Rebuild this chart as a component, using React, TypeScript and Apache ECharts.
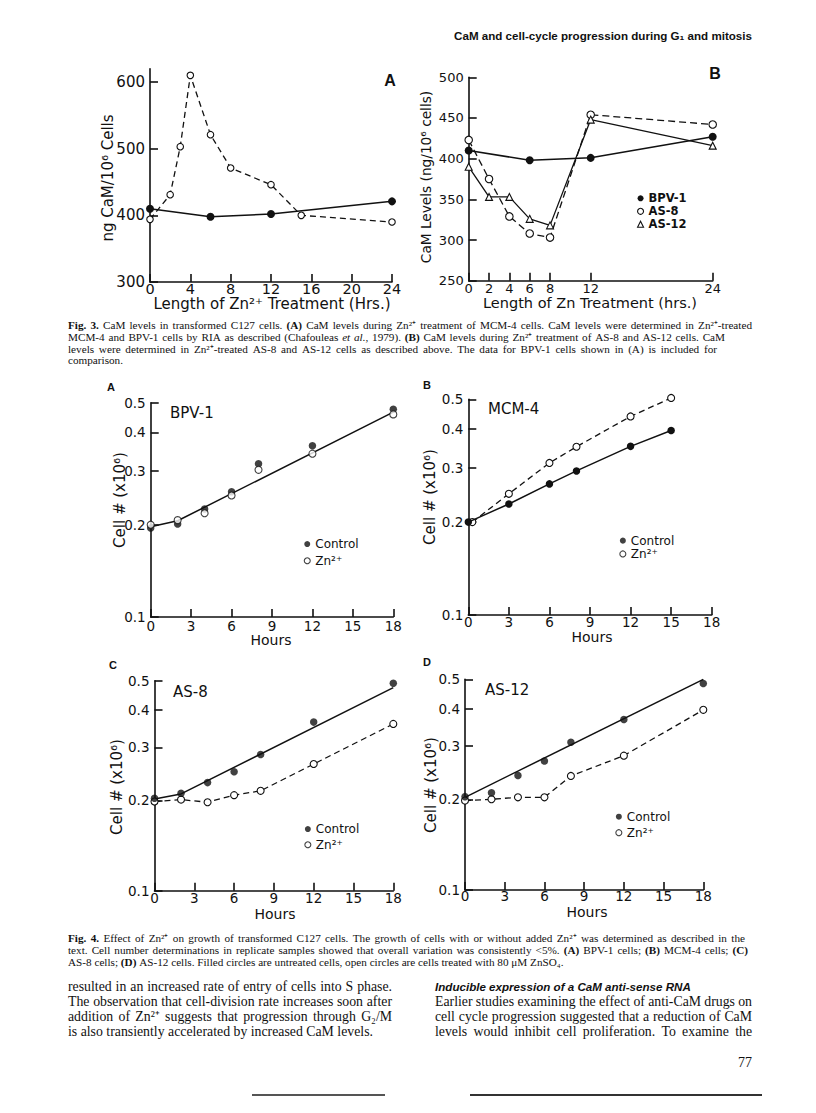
import React, { useEffect, useRef } from 'react';
import * as echarts from 'echarts';

// ---------- Fig. 3A : CaM (ng/10^6 cells) vs hours of Zn2+ ----------
const fig3aBpvHours = [0, 6, 12, 24];
const fig3aBpvCaM = [410, 398, 402, 421];
const fig3aMcmHours = [0, 2, 3, 4, 6, 8, 12, 15, 24];
const fig3aMcmCaM = [394, 431, 503, 610, 521, 471, 446, 400, 390];
const fig3aXTicks = [0, 4, 8, 12, 16, 20, 24];
const fig3aYTicks = [300, 400, 500, 600];

// ---------- Fig. 3B ----------
const fig3bHours = [0, 2, 4, 6, 8, 12, 24];
const fig3bBpvHours = [0, 6, 12, 24];
const fig3bBpv = [410, 398, 401, 427];
const fig3bAs8 = [423, 375, 329, 308, 303, 454, 442];
const fig3bAs12 = [390, 353, 353, 326, 318, 448, 416];
const fig3bXTicks = [0, 2, 4, 6, 8, 12, 24];
const fig3bYTicks = [250, 300, 350, 400, 450, 500];

// ---------- Fig. 4 : cell number (x10^6), log scale ----------
const fig4Hours = [0, 2, 4, 6, 8, 12, 18];
const fig4XTicks = [0, 3, 6, 9, 12, 15, 18];
const fig4YTicks = [0.1, 0.2, 0.3, 0.4, 0.5];

const bpvControl = [0.195, 0.201, 0.225, 0.256, 0.316, 0.362, 0.476];
const bpvZn = [0.2, 0.207, 0.218, 0.249, 0.302, 0.341, 0.458];
const bpvFitHours = [0, 2, 18];
const bpvFit = [0.197, 0.206, 0.466];

const mcmControlHours = [0, 3, 6, 8, 12, 15];
const mcmControl = [0.2, 0.229, 0.266, 0.293, 0.352, 0.396];
const mcmZnHours = [0.3, 3, 6, 8, 12, 15];
const mcmZn = [0.2, 0.247, 0.311, 0.351, 0.44, 0.505];

const as8Control = [0.203, 0.211, 0.229, 0.249, 0.284, 0.364, 0.49];
const as8Zn = [0.198, 0.201, 0.197, 0.208, 0.215, 0.264, 0.359];
const as8FitHours = [0, 2, 18];
const as8Fit = [0.202, 0.21, 0.474];

const as12Control = [0.204, 0.21, 0.24, 0.268, 0.309, 0.368, 0.484];
const as12Zn = [0.198, 0.2, 0.203, 0.203, 0.239, 0.279, 0.396];
const as12FitHours = [0, 18];
const as12Fit = [0.203, 0.5];

// ---------- page text ----------
const fig3Caption = [
  '{b|Fig. 3.} CaM levels in transformed C127 cells. {b|(A)} CaM levels during Zn²⁺ treatment of MCM-4 cells. CaM levels were determined in Zn²⁺-treated',
  'MCM-4 and BPV-1 cells by RIA as described (Chafouleas {i|et al.}, 1979). {b|(B)} CaM levels during Zn²⁺ treatment of AS-8 and AS-12 cells. CaM',
  'levels were determined in Zn²⁺-treated AS-8 and AS-12 cells as described above. The data for BPV-1 cells shown in (A) is included for',
  'comparison.',
];
const fig4Caption = [
  '{b|Fig. 4.} Effect of Zn²⁺ on growth of transformed C127 cells. The growth of cells with or without added Zn²⁺ was determined as described in the',
  'text. Cell number determinations in replicate samples showed that overall variation was consistently <5%. {b|(A)} BPV-1 cells; {b|(B)} MCM-4 cells; {b|(C)}',
  'AS-8 cells; {b|(D)} AS-12 cells. Filled circles are untreated cells, open circles are cells treated with 80 μM ZnSO₄.',
];
const leftColumn = [
  'resulted in an increased rate of entry of cells into S phase.',
  'The observation that cell-division rate increases soon after',
  'addition of Zn²⁺ suggests that progression through G₂/M',
  'is also transiently accelerated by increased CaM levels.',
];
const rightColumn = [
  'Earlier studies examining the effect of anti-CaM drugs on',
  'cell cycle progression suggested that a reduction of CaM',
  'levels would inhibit cell proliferation. To examine the',
];

const INK = '#111';
const SANS = "'DejaVu Sans', 'Liberation Sans', sans-serif";
const SERIF = "'Liberation Serif', 'Times New Roman', serif";
const HEAD = "'Liberation Sans', Arial, sans-serif";

const lg = (v: number) => Math.log10(v);
const pairs = (xs: number[], ys: number[], f: (v: number) => number = (v) => v) =>
  xs.map((x, i) => [x, f(ys[i])]);

function xAx(gridIndex: number, min: number, max: number, ticks: number[], fontSize: number, margin: number) {
  return {
    type: 'value', gridIndex, min, max,
    axisLine: { show: true, onZero: false, lineStyle: { color: INK, width: 1.6 } },
    axisTick: { show: true, inside: true, length: 8, customValues: ticks, lineStyle: { color: INK, width: 1.6 } },
    axisLabel: { customValues: ticks, fontSize, color: INK, fontFamily: SANS, margin },
    splitLine: { show: false },
  };
}

function yAx(gridIndex: number, min: number, max: number, ticks: number[], fontSize: number, fmt?: (v: number) => string) {
  return {
    type: 'value', gridIndex, min, max,
    axisLine: { show: true, onZero: false, lineStyle: { color: INK, width: 1.6 } },
    axisTick: { show: true, inside: true, length: 8, customValues: ticks, lineStyle: { color: INK, width: 1.6 } },
    axisLabel: { customValues: ticks, fontSize, color: INK, fontFamily: SANS, margin: 5, formatter: fmt },
    splitLine: { show: false },
  };
}

const logMax = lg(0.5) + 1e-9;
const logTicks = fig4YTicks.map(lg);
const logFmt = (v: number) => Math.pow(10, v).toFixed(1);

function filled(size: number) {
  return { symbol: 'circle', symbolSize: size, itemStyle: { color: INK } };
}
function open(size: number, sym = 'circle') {
  return { symbol: sym, symbolSize: size, itemStyle: { color: '#fff', borderColor: INK, borderWidth: 1.1 } };
}

function txt(text: string, x: number, y: number, size: number, family: string, o: any = {}) {
  return {
    type: 'text', x, y, rotation: o.rotation || 0, silent: true, z: 10,
    style: {
      text, fontSize: size, fontFamily: family, fontWeight: o.weight || 'normal',
      fontStyle: o.style || 'normal', fill: o.fill || INK,
      align: o.align || 'left', verticalAlign: 'middle',
      textAlign: o.align || 'left', textVerticalAlign: 'middle',
      rich: o.rich,
    },
  };
}

const richFor = (size: number, family: string) => ({
  b: { fontFamily: family, fontSize: size, fontWeight: 'bold', fill: INK },
  i: { fontFamily: family, fontSize: size, fontStyle: 'italic', fill: INK },
});

let measureCtx: CanvasRenderingContext2D | null = null;
function measure(text: string, size: number, family: string, weight: string, style: string) {
  if (!measureCtx) measureCtx = document.createElement('canvas').getContext('2d');
  if (!measureCtx) return text.length * size * 0.45;
  measureCtx.font = `${style} ${weight} ${size}px ${family}`;
  return measureCtx.measureText(text).width;
}

// one typeset line, words spread so that it ends at x1 when x1 is given
function typeLine(str: string, x0: number, x1: number | null, y: number, size: number, family: string) {
  const pieces: { t: string; s: string }[] = [];
  const re = /\{(\w)\|([^}]*)\}|([^{]+)/g;
  let m: RegExpExecArray | null;
  while ((m = re.exec(str))) {
    if (m[3] !== undefined) pieces.push({ t: m[3], s: '' });
    else pieces.push({ t: m[2], s: m[1] });
  }
  const words: { t: string; s: string }[][] = [];
  let cur: { t: string; s: string }[] = [];
  for (const p of pieces) {
    const parts = p.t.split(' ');
    parts.forEach((part, i) => {
      if (i > 0) {
        if (cur.length) words.push(cur);
        cur = [];
      }
      if (part) cur.push({ t: part, s: p.s });
    });
  }
  if (cur.length) words.push(cur);
  const widths = words.map((w) =>
    w.reduce((a, p) => a + measure(p.t, size, family, p.s === 'b' ? 'bold' : 'normal', p.s === 'i' ? 'italic' : 'normal'), 0),
  );
  const spaceW = measure(' ', size, family, 'normal', 'normal');
  const total = widths.reduce((a, b) => a + b, 0);
  const gap = x1 !== null && words.length > 1 ? Math.max(spaceW * 0.6, (x1 - x0 - total) / (words.length - 1)) : spaceW;
  const rich = richFor(size, family);
  let x = x0;
  return words.map((w, i) => {
    const el = txt(w.map((p) => (p.s ? `{${p.s}|${p.t}}` : p.t)).join(''), x, y, size, family, { rich });
    x += widths[i] + gap;
    return el;
  });
}

const CAP = 11.2;
const BODY = 13.8;

export default function App() {
  const ref = useRef<HTMLDivElement>(null);

  useEffect(() => {
    if (!ref.current) return;
    const chart = echarts.init(ref.current, undefined, { renderer: 'svg' });

    const grids = [
      { left: 150, top: 68.7, width: 242, height: 213.3 },
      { left: 468.7, top: 77.3, width: 244, height: 203.4 },
      { left: 150.7, top: 402.7, width: 242.6, height: 214.3 },
      { left: 468.3, top: 399.3, width: 243.4, height: 215.7 },
      { left: 154.5, top: 680.7, width: 238.8, height: 210 },
      { left: 465, top: 679.3, width: 238.3, height: 210.7 },
    ];

    const xAxis = [
      xAx(0, 0, 24, fig3aXTicks, 14.5, -1),
      xAx(1, 0, 24, fig3bXTicks, 13, 1),
      xAx(2, 0, 18, fig4XTicks, 13.5, 2),
      xAx(3, 0, 18, fig4XTicks, 13.5, 0),
      xAx(4, 0, 18, fig4XTicks, 13.5, 0),
      xAx(5, 0, 18, fig4XTicks, 13.5, -1),
    ];
    const yAxis = [
      yAx(0, 300, 620, fig3aYTicks, 15),
      yAx(1, 250, 500, fig3bYTicks, 13),
      yAx(2, -1, logMax, logTicks, 13.5, logFmt),
      yAx(3, -1, logMax, logTicks, 13.5, logFmt),
      yAx(4, -1, logMax, logTicks, 13.5, logFmt),
      yAx(5, -1, logMax, logTicks, 13.5, logFmt),
    ];

    const solid = { color: INK, width: 1.5 };
    const dashed = { color: INK, width: 1.3, type: [6, 4] };
    const base = { silent: true, clip: false, legendHoverLink: false };

    const series: any[] = [
      // Fig 3A
      { ...base, type: 'line', name: 'BPV-1', xAxisIndex: 0, yAxisIndex: 0, data: pairs(fig3aBpvHours, fig3aBpvCaM), lineStyle: solid, ...filled(8), z: 3 },
      { ...base, type: 'line', name: 'MCM-4', xAxisIndex: 0, yAxisIndex: 0, data: pairs(fig3aMcmHours, fig3aMcmCaM), lineStyle: dashed, ...open(6.5), z: 2 },
      // Fig 3B
      { ...base, type: 'line', name: 'BPV-1', xAxisIndex: 1, yAxisIndex: 1, data: pairs(fig3bBpvHours, fig3bBpv), lineStyle: solid, ...filled(8), z: 3 },
      { ...base, type: 'line', name: 'AS-8', xAxisIndex: 1, yAxisIndex: 1, data: pairs(fig3bHours, fig3bAs8), lineStyle: { ...dashed, type: [7, 4] }, ...open(7.5), z: 2 },
      { ...base, type: 'line', name: 'AS-12', xAxisIndex: 1, yAxisIndex: 1, data: pairs(fig3bHours, fig3bAs12), lineStyle: { color: INK, width: 1.3 }, ...open(7, 'triangle'), z: 2 },
      // Fig 4A BPV-1
      { ...base, type: 'line', name: 'fitA', xAxisIndex: 2, yAxisIndex: 2, data: pairs(bpvFitHours, bpvFit, lg), lineStyle: solid, symbol: 'none', z: 1 },
      { ...base, type: 'scatter', name: 'Control', xAxisIndex: 2, yAxisIndex: 2, data: pairs(fig4Hours, bpvControl, lg), ...filled(7.5), z: 3 },
      { ...base, type: 'scatter', name: 'Zn²⁺', xAxisIndex: 2, yAxisIndex: 2, data: pairs(fig4Hours, bpvZn, lg), ...open(7), z: 4 },
      // Fig 4B MCM-4
      { ...base, type: 'line', name: 'Control', xAxisIndex: 3, yAxisIndex: 3, data: pairs(mcmControlHours, mcmControl, lg), lineStyle: solid, ...filled(7.5), z: 3 },
      { ...base, type: 'line', name: 'Zn²⁺', xAxisIndex: 3, yAxisIndex: 3, data: pairs(mcmZnHours, mcmZn, lg), lineStyle: dashed, ...open(7), z: 2 },
      // Fig 4C AS-8
      { ...base, type: 'line', name: 'fitC', xAxisIndex: 4, yAxisIndex: 4, data: pairs(as8FitHours, as8Fit, lg), lineStyle: solid, symbol: 'none', z: 1 },
      { ...base, type: 'scatter', name: 'Control', xAxisIndex: 4, yAxisIndex: 4, data: pairs(fig4Hours, as8Control, lg), ...filled(7.5), z: 3 },
      { ...base, type: 'line', name: 'Zn²⁺', xAxisIndex: 4, yAxisIndex: 4, data: pairs(fig4Hours, as8Zn, lg), lineStyle: dashed, ...open(7), z: 2 },
      // Fig 4D AS-12
      { ...base, type: 'line', name: 'fitD', xAxisIndex: 5, yAxisIndex: 5, data: pairs(as12FitHours, as12Fit, lg), lineStyle: solid, symbol: 'none', z: 1 },
      { ...base, type: 'scatter', name: 'Control', xAxisIndex: 5, yAxisIndex: 5, data: pairs(fig4Hours, as12Control, lg), ...filled(7.5), z: 3 },
      { ...base, type: 'line', name: 'Zn²⁺', xAxisIndex: 5, yAxisIndex: 5, data: pairs(fig4Hours, as12Zn, lg), lineStyle: dashed, ...open(7), z: 2 },
    ];

    const openIcon = { color: '#fff', borderColor: INK, borderWidth: 1.1 };
    const lgd = (left: number, top: number, lh: number, data: any[], fontSize = 12, weight = 'normal') => ({
      orient: 'vertical', left, top, itemWidth: 6, itemHeight: 6, itemGap: 0, padding: 0,
      selectedMode: false,
      textStyle: { fontFamily: SANS, fontSize, fontWeight: weight, color: INK, lineHeight: lh },
      data,
    });
    const ctrlZn = [
      { name: 'Control', icon: 'circle', itemStyle: { color: INK } },
      { name: 'Zn²⁺', icon: 'circle', itemStyle: openIcon },
    ];

    const legend = [
      lgd(637, 191.8, 13, [
        { name: 'BPV-1', icon: 'circle', itemStyle: { color: INK } },
        { name: 'AS-8', icon: 'circle', itemStyle: openIcon },
        { name: 'AS-12', icon: 'triangle', itemStyle: openIcon },
      ], 11.5, 'bold'),
      lgd(303.7, 535.7, 16.7, ctrlZn),
      lgd(619.3, 534, 13.3, ctrlZn),
      lgd(304.3, 821.2, 15.7, ctrlZn),
      lgd(615.3, 808.7, 16, ctrlZn),
    ];

    const fig3Ends = [752, 725, 717, null];
    const fig3Ys = [325, 336.8, 348.6, 360.4];
    const fig4Ends = [745, 748, null];
    const fig4Ys = [938.3, 950, 961.7];
    const leftEnds = [392, 392, 392, null];
    const rightEnds = [752, 752, 752];
    const bodyYs = [986, 1001, 1016, 1031];

    const graphic: any[] = [
      txt('CaM and cell-cycle progression during G₁ and mitosis', 752, 35, 11.6, HEAD, { align: 'right', weight: 'bold' }),
      // Fig 3 panel texts
      txt('A', 390, 80, 16, HEAD, { align: 'center', weight: 'bold' }),
      txt('B', 715, 73, 16, HEAD, { align: 'center', weight: 'bold' }),
      txt('ng CaM/10⁶ Cells', 108, 178, 15, SANS, { align: 'center', rotation: Math.PI / 2 }),
      txt('Length of Zn²⁺ Treatment (Hrs.)', 272, 304, 15, SANS, { align: 'center' }),
      txt('CaM Levels (ng/10⁶ cells)', 426, 177, 13.7, SANS, { align: 'center', rotation: Math.PI / 2 }),
      txt('Length of Zn Treatment (hrs.)', 590, 303, 14.5, SANS, { align: 'center' }),
      // Fig 4 panel texts
      txt('A', 111, 387, 11, HEAD, { align: 'center', weight: 'bold' }),
      txt('B', 427, 385, 11, HEAD, { align: 'center', weight: 'bold' }),
      txt('C', 113, 665, 11, HEAD, { align: 'center', weight: 'bold' }),
      txt('D', 427, 662, 11, HEAD, { align: 'center', weight: 'bold' }),
      txt('BPV-1', 170, 413, 15, SANS),
      txt('MCM-4', 488, 409, 15, SANS),
      txt('AS-8', 173, 692, 15, SANS),
      txt('AS-12', 485, 690, 15, SANS),
      txt('Cell # (x10⁶)', 120, 500, 15, SANS, { align: 'center', rotation: Math.PI / 2 }),
      txt('Cell # (x10⁶)', 430, 497, 15, SANS, { align: 'center', rotation: Math.PI / 2 }),
      txt('Cell # (x10⁶)', 117, 787, 15, SANS, { align: 'center', rotation: Math.PI / 2 }),
      txt('Cell # (x10⁶)', 431, 785, 15, SANS, { align: 'center', rotation: Math.PI / 2 }),
      txt('Hours', 271, 640, 14, SANS, { align: 'center' }),
      txt('Hours', 592, 637, 14, SANS, { align: 'center' }),
      txt('Hours', 275, 914, 14, SANS, { align: 'center' }),
      txt('Hours', 587, 912, 14, SANS, { align: 'center' }),
      // body heading and page number
      txt('Inducible expression of a CaM anti-sense RNA', 435, 986, 11.6, HEAD, { weight: 'bold', style: 'italic' }),
      txt('77', 752, 1062, 14, SERIF, { align: 'right' }),
      { type: 'line', silent: true, shape: { x1: 252, y1: 1095, x2: 385, y2: 1095 }, style: { stroke: '#555', lineWidth: 1.8 } },
      { type: 'line', silent: true, shape: { x1: 470, y1: 1095, x2: 762, y2: 1095 }, style: { stroke: '#333', lineWidth: 2.2 } },
    ];

    fig3Caption.forEach((l, i) => graphic.push(...typeLine(l, 68, fig3Ends[i], fig3Ys[i], CAP, SERIF)));
    fig4Caption.forEach((l, i) => graphic.push(...typeLine(l, 68, fig4Ends[i], fig4Ys[i], CAP, SERIF)));
    leftColumn.forEach((l, i) => graphic.push(...typeLine(l, 68, leftEnds[i], bodyYs[i], BODY, SERIF)));
    rightColumn.forEach((l, i) => graphic.push(...typeLine(l, 435, rightEnds[i], bodyYs[i + 1], BODY, SERIF)));

    chart.setOption({
      animation: false,
      backgroundColor: '#fff',
      textStyle: { fontFamily: SANS },
      grid: grids,
      xAxis,
      yAxis,
      legend,
      series,
      graphic,
    });

    return () => chart.dispose();
  }, []);

  return (
    <div
      ref={ref}
      style={{ position: 'absolute', left: 0, top: 0, width: 816, height: 1113, background: '#fff' }}
    />
  );
}
